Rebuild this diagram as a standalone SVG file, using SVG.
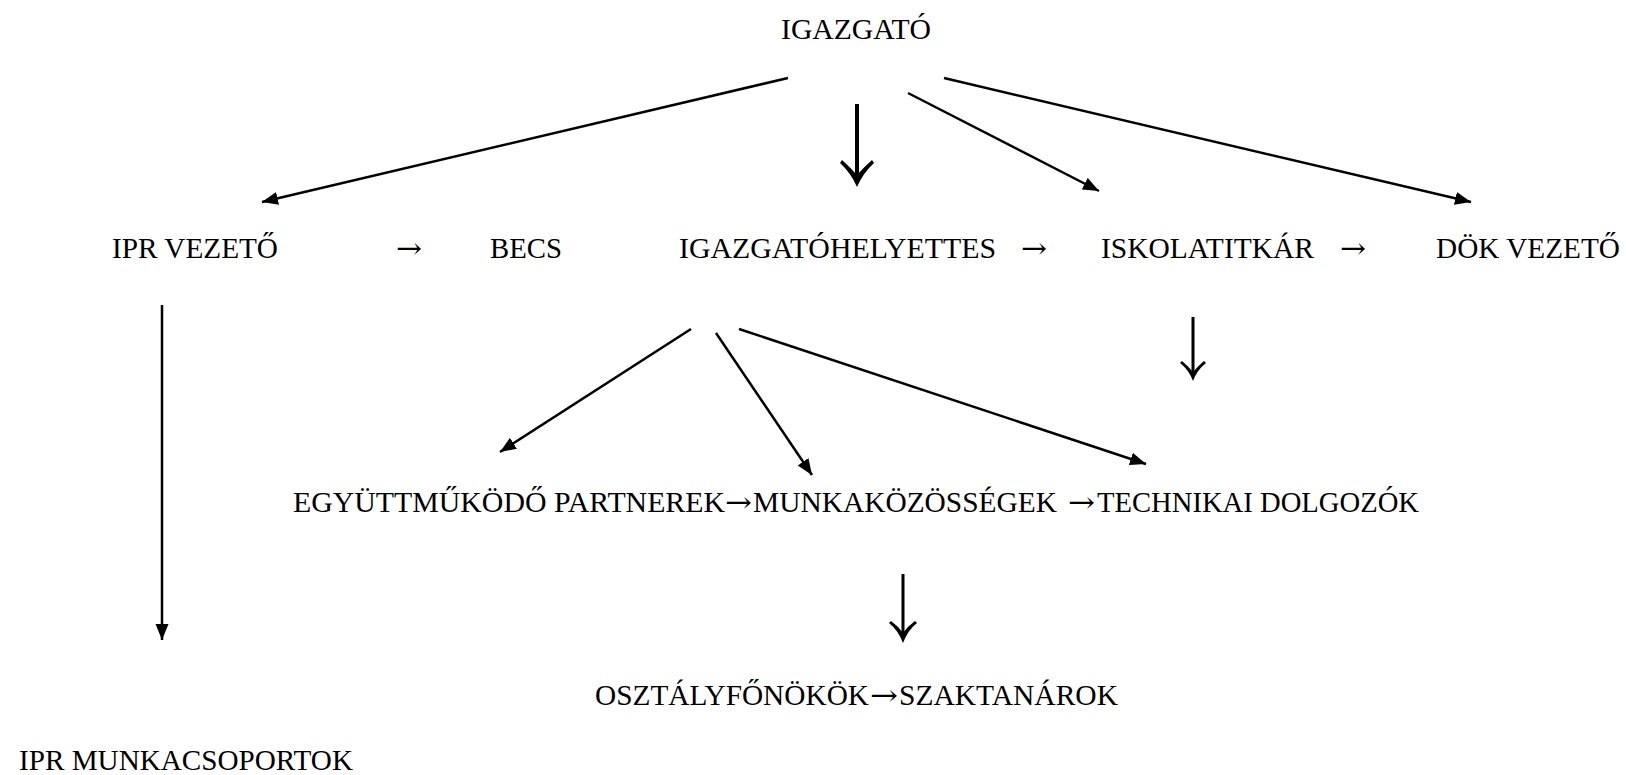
<svg xmlns="http://www.w3.org/2000/svg" width="1626" height="775" viewBox="0 0 1626 775">
<style>
.t{font-family:'Liberation Serif','Times New Roman',serif;font-size:29px;fill:#000}
.ar{font-family:'DejaVu Serif','Liberation Serif',serif}
.ln{stroke:#000;stroke-width:2.5;fill:none}
.sh{stroke:#000;fill:none}
.hd{fill:#000;stroke:none}
</style>
<defs>
<marker id="ah" markerUnits="userSpaceOnUse" markerWidth="18" markerHeight="14" refX="16" refY="6.5" orient="auto">
<path d="M0,0 L16,6.5 L0,13 z" fill="#000"/>
</marker>
</defs>
<rect width="1626" height="775" fill="#fff"/>
<g class="t">
<g id="n-igazgato"><text x="781" y="39" textLength="150" lengthAdjust="spacingAndGlyphs">IGAZGATÓ</text></g>
<g id="n-ipr-vezeto"><text x="112" y="258" textLength="166" lengthAdjust="spacingAndGlyphs">IPR VEZETŐ</text></g>
<g id="n-becs"><text class="ar" x="396" y="258" textLength="26" lengthAdjust="spacingAndGlyphs">→</text><text x="490" y="258" textLength="72" lengthAdjust="spacingAndGlyphs">BECS</text></g>
<g id="n-igazgatohelyettes"><text x="679" y="258" textLength="317" lengthAdjust="spacingAndGlyphs">IGAZGATÓHELYETTES</text></g>
<g id="n-iskolatitkar"><text class="ar" x="1021" y="258" textLength="26" lengthAdjust="spacingAndGlyphs">→</text><text x="1101" y="258" textLength="213" lengthAdjust="spacingAndGlyphs">ISKOLATITKÁR</text></g>
<g id="n-dok-vezeto"><text class="ar" x="1340" y="258" textLength="26" lengthAdjust="spacingAndGlyphs">→</text><text x="1436" y="258" textLength="184" lengthAdjust="spacingAndGlyphs">DÖK VEZETŐ</text></g>
<g id="n-row3">
<text x="293" y="512" textLength="432" lengthAdjust="spacingAndGlyphs">EGYÜTTMŰKÖDŐ PARTNEREK</text>
<text class="ar" x="725" y="512" textLength="27" lengthAdjust="spacingAndGlyphs">→</text>
<text x="753" y="512" textLength="304" lengthAdjust="spacingAndGlyphs">MUNKAKÖZÖSSÉGEK</text>
<text class="ar" x="1068" y="512" textLength="27" lengthAdjust="spacingAndGlyphs">→</text>
<text x="1097" y="512" textLength="322" lengthAdjust="spacingAndGlyphs">TECHNIKAI DOLGOZÓK</text>
</g>
<g id="n-row4">
<text x="595" y="705" textLength="274" lengthAdjust="spacingAndGlyphs">OSZTÁLYFŐNÖKÖK</text>
<text class="ar" x="870" y="705" textLength="28" lengthAdjust="spacingAndGlyphs">→</text>
<text x="899" y="705" textLength="219" lengthAdjust="spacingAndGlyphs">SZAKTANÁROK</text>
</g>
<g id="n-ipr-munkacsoportok"><text x="19" y="770" textLength="334" lengthAdjust="spacingAndGlyphs">IPR MUNKACSOPORTOK</text></g>
</g>
<g id="connectors">
<line class="ln" x1="788" y1="78" x2="262" y2="202" marker-end="url(#ah)"/>
<line class="ln" x1="908" y1="93" x2="1099" y2="191" marker-end="url(#ah)"/>
<line class="ln" x1="944" y1="78" x2="1471" y2="202" marker-end="url(#ah)"/>
<line class="ln" x1="162" y1="305" x2="162" y2="640" marker-end="url(#ah)"/>
<line class="ln" x1="691" y1="329" x2="500" y2="452" marker-end="url(#ah)"/>
<line class="ln" x1="716" y1="333" x2="812" y2="475" marker-end="url(#ah)"/>
<line class="ln" x1="739" y1="329" x2="1146" y2="464" marker-end="url(#ah)"/>
<line class="sh" stroke-width="4" x1="857" y1="104" x2="857" y2="178"/>
<path class="hd" d="M840,163 Q851,173 857,187 Q863,173 874,163 L872,160 Q864,167 857,175 Q850,167 842,160 Z"/>
<line class="sh" stroke-width="3" x1="1193" y1="317" x2="1193" y2="374"/>
<path class="hd" d="M1180,363 Q1189,370 1193,381 Q1197,370 1206,363 L1204,361 Q1198,366 1193,372 Q1188,366 1182,361 Z"/>
<line class="sh" stroke-width="3" x1="903" y1="574" x2="903" y2="635"/>
<path class="hd" d="M889,623 Q898,630 903,643 Q908,630 917,623 L915,621 Q908,626 903,633 Q898,626 891,621 Z"/>
</g>
</svg>
